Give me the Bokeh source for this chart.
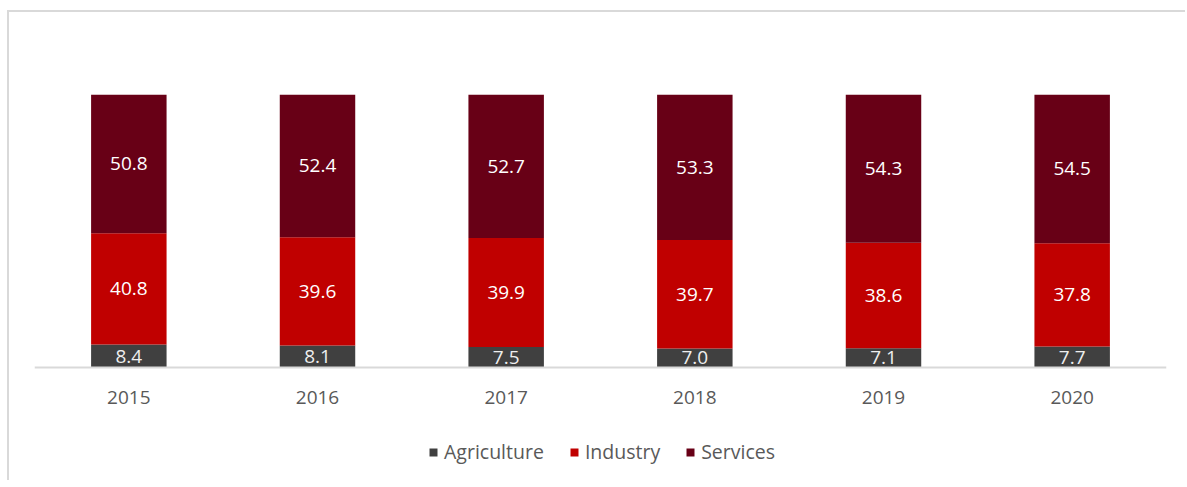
from bokeh.plotting import figure
from bokeh.models import ColumnDataSource, LabelSet, Legend, LegendItem, FactorRange, Range1d
from bokeh.embed import file_html
from bokeh.resources import INLINE
from bokeh.core.properties import value

years = ["2015", "2016", "2017", "2018", "2019", "2020"]
agriculture = [8.4, 8.1, 7.5, 7.0, 7.1, 7.7]
industry = [40.8, 39.6, 39.9, 39.7, 38.6, 37.8]
services = [50.8, 52.4, 52.7, 53.3, 54.3, 54.5]

sectors = ["Agriculture", "Industry", "Services"]
colors = ["#404040", "#c00000", "#680016"]

FONT = "Open Sans"

data = {"year": years, "Agriculture": agriculture, "Industry": industry, "Services": services}
source = ColumnDataSource(data)

p = figure(x_range=FactorRange(*years, range_padding=0), y_range=Range1d(-42.1, 100),
           width=1178, height=470, output_backend="svg", toolbar_location=None,
           min_border_left=25, min_border_right=21, min_border_top=82, min_border_bottom=0)
p.styles = {"margin-left": "7px", "margin-top": "10px",
            "border-left": "2px solid #d9d9d9", "border-top": "2px solid #d9d9d9"}
p.outline_line_color = None
p.xgrid.visible = False
p.ygrid.visible = False
p.yaxis.visible = False

renderers = p.vbar_stack(sectors, x="year", width=0.4, color=colors, line_color=None, source=source)

# label positions (segment midpoints)
bottoms = [0.0] * len(years)
for s in sectors:
    vals = data[s]
    mids = [b + v / 2 for b, v in zip(bottoms, vals)]
    lab_src = ColumnDataSource({"year": years, "y": mids, "t": ["%.1f" % v for v in vals]})
    labels = LabelSet(x="year", y="y", text="t", source=lab_src, text_align="center",
                      text_baseline="middle", text_color="#ffffff" if s != "Agriculture" else "#eeeeee",
                      text_font=value(FONT), text_font_size="19px")
    p.add_layout(labels)
    bottoms = [b + v for b, v in zip(bottoms, vals)]

ax = p.xaxis[0]
ax.fixed_location = 0
ax.axis_line_color = "#d9d9d9"
ax.axis_line_width = 2
ax.major_tick_line_color = None
ax.minor_tick_line_color = None
ax.major_tick_out = 0
ax.major_tick_in = 0
ax.major_label_standoff = 23
ax.major_label_text_font = FONT
ax.major_label_text_font_size = "19px"
ax.major_label_text_color = "#595959"

legend = Legend(items=[LegendItem(label=s, renderers=[r]) for s, r in zip(sectors, renderers)],
                orientation="horizontal", location=(394, 17))
legend.glyph_width = 10
legend.glyph_height = 10
legend.label_standoff = 6
legend.spacing = 25
legend.padding = 5
legend.margin = 0
legend.border_line_color = None
legend.background_fill_alpha = 0
legend.label_text_font = FONT
legend.label_text_font_size = "19.5px"
legend.label_text_color = "#595959"
p.add_layout(legend)

open("out.html", "w").write(file_html(p, INLINE))
